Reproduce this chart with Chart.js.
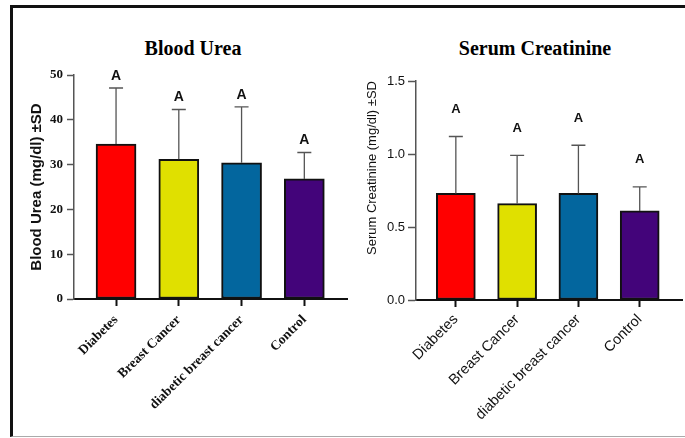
<!DOCTYPE html>
<html>
<head>
<meta charset="utf-8">
<script src="https://cdn.jsdelivr.net/npm/chart.js@4"></script>
<style>
  html, body { margin: 0; padding: 0; background: #fff; width: 685px; height: 438px; overflow: hidden; }
  #frame { position: absolute; left: 10px; top: 5px; width: 700px; height: 428px;
           border-left: 3px solid #111; border-top: 3px solid #111; border-bottom: 1.5px solid #aaa; }
  .panelTitle { position: absolute; top: 36px; font: bold 20px "Liberation Serif", serif; color: #000;
                transform: translateX(-50%); white-space: nowrap; line-height: 24px; }
  canvas { position: absolute; top: 0; }
</style>
</head>
<body>
<div id="frame"></div>
<div class="panelTitle" style="left:193px">Blood Urea</div>
<div class="panelTitle" style="left:535px">Serum Creatinine</div>
<canvas id="urea" width="350" height="438" style="left:0"></canvas>
<canvas id="creat" width="335" height="438" style="left:350px"></canvas>
<script>
// Groups compared in both panels
const categories = ['Diabetes', 'Breast Cancer', 'diabetic breast cancer', 'Control'];
const barColors = ['#FF0000', '#E0E000', '#03669E', '#43047A'];

// Blood urea (mg/dl): mean and SD per group
const ureaMean = [34.6, 31.2, 30.4, 26.8];
const ureaSD   = [12.5, 11.1, 12.5, 5.9];
const ureaLetters = ['A', 'A', 'A', 'A'];
const ureaTicks = [0, 10, 20, 30, 40, 50];

// Serum creatinine (mg/dl): mean and SD per group
const creatMean = [0.73, 0.66, 0.73, 0.61];
const creatSD   = [0.39, 0.33, 0.33, 0.165];
const creatLetters = ['A', 'A', 'A', 'A'];
const creatTicks = [0, 0.5, 1.0, 1.5];

// Upper error whiskers with caps, plus significance letters above them
const errorBars = {
  id: 'errorBars',
  afterDatasetsDraw(chart, args, opts) {
    const {ctx} = chart;
    const meta = chart.getDatasetMeta(0);
    const y = chart.scales.y;
    ctx.save();
    meta.data.forEach((bar, i) => {
      const top = y.getPixelForValue(opts.mean[i]);
      const tip = y.getPixelForValue(opts.mean[i] + opts.sd[i]);
      ctx.strokeStyle = '#555';
      ctx.lineWidth = 1.3;
      ctx.beginPath();
      ctx.moveTo(bar.x, top);
      ctx.lineTo(bar.x, tip);
      ctx.moveTo(bar.x - 7, tip);
      ctx.lineTo(bar.x + 7, tip);
      ctx.stroke();
      ctx.fillStyle = '#111';
      ctx.font = opts.letterFont;
      ctx.textAlign = 'center';
      ctx.textBaseline = 'middle';
      ctx.fillText(opts.letters[i], bar.x, tip - opts.letterGap);
    });
    ctx.restore();
  }
};

function makePanel(id, cfg) {
  new Chart(document.getElementById(id), {
    type: 'bar',
    data: {
      datasets: [{
        data: cfg.mean.map((v, i) => ({x: i, y: v})),
        backgroundColor: barColors,
        borderColor: '#111',
        borderWidth: 2,
        borderSkipped: false,
        barThickness: cfg.barThickness
      }]
    },
    plugins: [errorBars],
    options: {
      responsive: false,
      devicePixelRatio: 1,
      animation: false,
      layout: { padding: cfg.padding },
      plugins: {
        legend: { display: false },
        tooltip: { enabled: false },
        title: { display: false },
        errorBars: { mean: cfg.mean, sd: cfg.sd, letters: cfg.letters,
                     letterFont: cfg.letterFont, letterGap: cfg.letterGap }
      },
      scales: {
        x: {
          type: 'linear',
          offset: false,
          bounds: 'data',
          min: cfg.xMin,
          max: cfg.xMax,
          afterBuildTicks: s => { s.ticks = categories.map((_, i) => ({value: i})); },
          afterFit: s => { s.height = cfg.xHeight; },
          border: { display: true, color: '#111', width: 2 },
          grid: { offset: false, drawOnChartArea: false, drawTicks: true, tickLength: 7, tickWidth: 2, color: '#111' },
          ticks: {
            autoSkip: false,
            minRotation: 45,
            maxRotation: 45,
            padding: cfg.xTickPad,
            color: '#111',
            font: cfg.xFont,
            callback: v => categories[v]
          }
        },
        y: {
          min: 0,
          max: cfg.yTicks[cfg.yTicks.length - 1],
          afterBuildTicks: s => { s.ticks = cfg.yTicks.map(v => ({value: v})); },
          afterFit: s => { s.width = cfg.yWidth; },
          border: { display: true, color: '#555', width: 1.5 },
          grid: { drawOnChartArea: false, drawTicks: true, tickLength: cfg.yTickLen, tickWidth: 1.5, color: '#555' },
          ticks: {
            padding: cfg.yTickPad,
            color: '#111',
            font: cfg.yFont,
            callback: cfg.yFormat
          },
          title: {
            display: true,
            text: cfg.yTitle,
            color: '#111',
            font: cfg.yTitleFont,
            align: cfg.yTitleAlign,
            padding: { top: cfg.yTitlePad, bottom: 0 }
          }
        }
      }
    }
  });
}

makePanel('urea', {
  mean: ureaMean, sd: ureaSD, letters: ureaLetters, yTicks: ureaTicks,
  yFormat: v => String(v),
  yTitle: 'Blood Urea (mg/dl) ±SD',
  yTitleFont: { family: 'Liberation Sans', size: 15, weight: 'bold' },
  yTitleAlign: 'center', yTitlePad: 28,
  yFont: { family: 'Liberation Serif', size: 13, weight: 'bold' },
  xFont: { family: 'Liberation Serif', size: 13.5, weight: 'bold' },
  letterFont: 'bold 14px "Liberation Sans"', letterGap: 12,
  barThickness: 40, xMin: -0.67, xMax: 3.68,
  padding: { left: 0, right: 3, top: 75, bottom: 0 },
  yWidth: 74, xHeight: 139, yTickLen: 7, yTickPad: 4, xTickPad: 6
});

makePanel('creat', {
  mean: creatMean, sd: creatSD, letters: creatLetters, yTicks: creatTicks,
  yFormat: v => v.toFixed(1),
  yTitle: 'Serum Creatinine (mg/dl) ±SD',
  yTitleFont: { family: 'Liberation Sans', size: 13 },
  yTitleAlign: 'end', yTitlePad: 15,
  yFont: { family: 'Liberation Sans', size: 13 },
  xFont: { family: 'Liberation Sans', size: 14.5 },
  letterFont: 'bold 13px "Liberation Sans"', letterGap: 27,
  barThickness: 39, xMin: -0.65, xMax: 3.69,
  padding: { left: 0, right: 3, top: 81, bottom: 0 },
  yWidth: 66, xHeight: 138, yTickLen: 8, yTickPad: 3, xTickPad: 4
});
</script>
</body>
</html>
